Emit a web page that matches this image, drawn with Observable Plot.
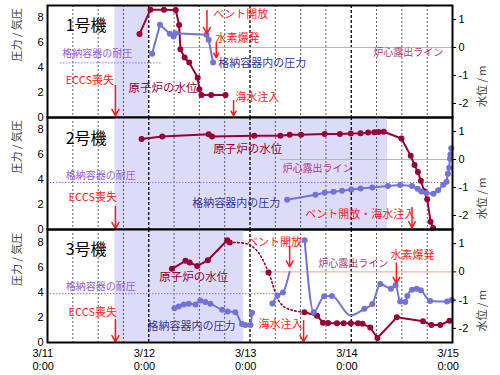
<!DOCTYPE html>
<html><head><meta charset="utf-8">
<script src="https://cdn.jsdelivr.net/npm/d3@7"></script>
<script src="https://cdn.jsdelivr.net/npm/@observablehq/plot@0.6"></script>
<style>
body{margin:0;background:#fff;}
#chart{width:500px;height:375px;position:relative;}
#chart svg{display:block;overflow:visible;}
</style></head><body><div id="chart"></div>
<script>
// ---- axes / ticks (hours since 3/11 0:00) ----
const dayTicks = [0, 24, 48, 72, 96];
const dayLabels = ["3/11\n0:00", "3/12\n0:00", "3/13\n0:00", "3/14\n0:00", "3/15\n0:00"];
const gridHours = [6, 12, 18, 24, 30, 36, 42, 48, 54, 60, 66, 72, 78, 84, 90];
const leftTicks = [0, 2, 4, 6, 8];
const rightTicks = [1, 0, -1, -2];
const units = ["1号機", "2号機", "3号機"];
const leftLabel = "圧力 / 気圧";
const rightLabel = "水位 / m";

// shaded periods (hours)
const shadeStart = [16, 16, 16];
const shadeEnd = [24, 80.6, 46.5];
// core exposure line (water level 0 m) start time
const coreLineStart = [31.5, 55.2, 50.5];
// containment design pressure: [value, from, to]
const u1Limit = [4.39, 3.1, 27.2];
const u2Limit = [3.78, 0, 94];
const u3Limit = [3.89, 0, 54];

// ---- Unit 1 ----
// reactor water level [hour, m]
const u1Level = [[21.8,0.48],[24.4,1.35],[27.6,1.35],[30.4,1.34],[31.2,0.80],[31.5,-0.06],[32.5,-0.36],[33.6,-0.54],[35.6,-1.08],[36.0,-1.49],[36.5,-1.70],[38.8,-1.70],[42.2,-1.70]];
// containment pressure [hour, atm]
const u1Press = [[24.8,5.12],[26.65,7.45],[29.0,6.73],[29.9,6.51],[30.3,6.78],[37.7,6.65],[38.2,6.25],[39.25,4.42]];

// ---- Unit 2 ----
const u2Level = [[22.3,0.73],[27.2,0.82],[38.2,0.90],[39.0,0.82],[49.0,0.85],[55.2,0.85],[57.4,0.88],[60.1,0.88],[65.7,0.91],[69.3,0.91],[71.9,0.93],[74.2,0.94],[76.0,0.96],[77.5,0.97],[78.5,0.98],[79.7,0.99],[83.9,0.75],[86.1,0.13],[87.0,-0.20],[87.8,-0.45],[88.5,-0.76],[89.3,-1.13],[90.0,-1.42],[90.8,-2.22],[91.4,-2.45]];
const u2Press = [[56.8,2.39],[63.5,2.79],[65.7,2.95],[67.8,3.03],[69.8,3.11],[72.0,3.22],[74.2,3.30],[77.0,3.38],[80.7,3.49],[83.6,3.58],[86.4,3.49],[87.7,3.27],[88.6,3.05],[89.8,2.93],[91.5,2.87],[92.6,3.15],[93.8,3.59],[94.6,3.83],[94.9,4.48],[95.2,4.96],[95.4,5.68],[95.5,6.02],[95.7,6.53]];

// ---- Unit 3 ----
const u3LevelA = [[29.5,0.11],[32.7,0.39],[33.7,0.33],[35.5,0.21],[38.0,0.41],[42.6,1.12],[43.2,1.04]];
const u3LevelEstimated = [[43.2,1.04],[47.3,0.99],[49.7,0.74],[52.4,-0.02],[53.6,-0.55],[54.4,-0.90],[56.0,-1.23],[58.3,-1.37],[60.9,-1.43]];
const u3LevelEstimatedDot = [[52.4,-0.02]];
const u3LevelB = [[60.9,-1.43],[63.9,-1.55],[65.3,-1.80],[66.5,-1.81],[68.6,-1.82],[70.2,-1.82],[71.9,-1.82],[73.6,-1.82],[74.7,-1.84],[76.5,-1.97],[78.2,-2.34],[82.8,-1.61],[89.0,-1.75],[91.0,-1.88],[93.1,-1.88],[95.3,-1.73]];
const u3PressA = [[30.1,2.73],[31.1,2.87],[32.3,3.03],[33.5,3.09],[35.1,3.03],[36.2,3.35],[37.4,3.22],[38.6,3.09],[41.4,2.60],[42.7,2.47],[44.5,2.41],[46.1,1.48],[46.9,1.40],[48.1,1.40],[48.5,2.36]];
const u3PressB = [[53.3,3.11],[54.5,3.75],[55.8,3.98],[57.4,5.63]];
const u3PressC = [[60.95,8.15],[63.1,2.41],[65.6,3.69],[67.4,3.71],[71.8,2.15],[75.1,2.68],[77.0,3.07],[78.9,4.66],[81.4,4.29],[82.5,4.56],[83.6,3.27],[84.8,3.22],[85.3,3.71],[86.4,4.21],[87.5,4.29],[88.5,4.16],[90.7,3.31],[94.7,3.27],[95.8,3.39]];
const u3PressLineOnly = [[57.4,5.63],[71.8,2.15]];

// ---- annotations: [text, hour, left value, kind] ----
const u1Texts = [["1号機",4.3,7.4,"title"],["格納容器の耐圧",3.5,5.14,"limit"],["ECCS喪失",4.3,2.97,"event"],["原子炉の水位",19.2,2.33,"level"],["ベント開放",39.3,8.3,"event"],["水素爆発",39.8,6.37,"event"],["格納容器内の圧力",40.5,4.32,"press"],["海水注入",44.5,1.63,"event"],["炉心露出ライン",77.2,5.17,"core"]];
const u2Texts = [["2号機",4.3,7.31,"title"],["原子炉の水位",39.3,6.46,"level"],["炉心露出ライン",55.7,4.86,"core"],["格納容器の耐圧",4.3,4.32,"limit"],["ECCS喪失",5.0,2.57,"event"],["格納容器内の圧力",34.3,2.12,"press"],["ベント開放・海水注入",61.1,1.24,"event"]];
const u3Texts = [["3号機",4.3,7.37,"title"],["原子炉の水位",26.5,5.23,"level"],["格納容器の耐圧",4.3,4.42,"limit"],["ECCS喪失",5.0,2.41,"event"],["格納容器内の圧力",23.7,1.26,"press"],["ベント開放",47.3,7.96,"event"],["海水注入",50.0,1.40,"event"],["炉心露出ライン",64.2,6.30,"core"],["水素爆発",81.3,6.97,"event"]];
// event arrows: [hour, from, to] (left units)
const u1Arrows = [[16.1,2.57,0.16],[37.8,8.6,6.75],[40.0,6.03,4.82],[44.1,1.37,0.16]];
const u2Arrows = [[16.1,1.85,0.08],[86.4,1.77,0.16]];
const u3Arrows = [[16.1,1.82,0.06],[57.4,7.64,6.03],[60.7,1.74,0.06],[82.7,6.33,4.72]];

// ---- helpers ----
const toLeft = r => (r + 2.5) * 9 / 4;
const fmtRight = v => { const r = Math.round(v * 4 / 9 - 2.5); return r < 0 ? "-" + (-r) : String(r); };
const LEVEL = "#990033", PRESS = "#7272d9";
const latin = "'Liberation Sans', Arial, sans-serif";
const cjk = "'Noto Sans CJK JP', 'Liberation Sans', sans-serif";
const kindStyle = {
  title: {fill: "#000", fontSize: 16},
  limit: {fill: "#9a5ce0", fontSize: 10},
  event: {fill: "#ff1a1a", fontSize: 11},
  level: {fill: "#990033", fontSize: 11.5},
  press: {fill: "#333399", fontSize: 11},
  core: {fill: "#b03a78", fontSize: 10}
};
const sameP = (a, b) => a[0] === b[0] && a[1] === b[1];

const panels = [
  {levelSegs: [u1Level], estimated: [], estDots: [], pressSegs: [u1Press], pressCurve: "linear", texts: u1Texts, arrows: u1Arrows, limit: u1Limit},
  {levelSegs: [u2Level], estimated: [], estDots: [], pressSegs: [u2Press], pressCurve: "linear", texts: u2Texts, arrows: u2Arrows, limit: u2Limit},
  {levelSegs: [u3LevelA, u3LevelB], estimated: u3LevelEstimated, estDots: u3LevelEstimatedDot, pressSegs: [u3PressA, u3PressB, u3PressC], pressCurve: "monotone-x", texts: u3Texts, arrows: u3Arrows, limit: u3Limit}
];

function buildPanel(i) {
  const P = panels[i];
  const last = i === 2;
  const marks = [];
  marks.push(Plot.rect([[shadeStart[i], shadeEnd[i]]], {x1: d => d[0], x2: d => d[1], y1: () => 0, y2: () => 9, fill: "#dcdcf9"}));
  marks.push(Plot.ruleX(gridHours.filter(h => h % 24), {x: d => d, stroke: "#333", strokeDasharray: "2,2", strokeWidth: 0.8}));
  marks.push(Plot.ruleX(gridHours.filter(h => h % 24 === 0), {x: d => d, stroke: "#000", strokeDasharray: "3,2", strokeWidth: 1.3}));
  marks.push(Plot.ruleY([P.limit], {y: d => d[0], x1: d => d[1], x2: d => d[2], stroke: "#9b6cf0", strokeDasharray: "1.5,1.5", strokeWidth: 1}));
  marks.push(Plot.ruleY([coreLineStart[i]], {y: () => toLeft(0), x1: d => d, x2: () => 96, stroke: "#ff9a9a", strokeWidth: 1}));
  // water level
  if (P.estimated.length) {
    marks.push(Plot.line(P.estimated, {x: d => d[0], y: d => toLeft(d[1]), stroke: LEVEL, strokeWidth: 1.6, strokeDasharray: "1.5,2.5", curve: "catmull-rom"}));
    marks.push(Plot.dot(P.estDots, {x: d => d[0], y: d => toLeft(d[1]), r: 3, fill: LEVEL}));
  }
  for (const seg of P.levelSegs) {
    marks.push(Plot.line(seg, {x: d => d[0], y: d => toLeft(d[1]), stroke: LEVEL, strokeWidth: 2}));
    marks.push(Plot.dot(seg, {x: d => d[0], y: d => toLeft(d[1]), r: 3, fill: LEVEL}));
  }
  // containment pressure
  for (const seg of P.pressSegs) {
    marks.push(Plot.line(seg, {x: d => d[0], y: d => d[1], stroke: PRESS, strokeWidth: 2, curve: P.pressCurve}));
    marks.push(Plot.dot(seg.filter(p => !u3PressLineOnly.some(q => sameP(p, q))), {x: d => d[0], y: d => d[1], r: 3, fill: PRESS}));
  }
  // texts
  for (const kind of Object.keys(kindStyle)) {
    const data = P.texts.filter(d => d[3] === kind);
    if (!data.length) continue;
    marks.push(Plot.text(data, {x: d => d[1], y: d => d[2], text: d => d[0], textAnchor: "start", fontFamily: cjk, ...kindStyle[kind]}));
  }
  marks.push(Plot.arrow(P.arrows, {x1: d => d[0], x2: d => d[0], y1: d => d[1], y2: d => d[2], stroke: "#ff1a1a", strokeWidth: 1.5, headLength: 7}));
  marks.push(Plot.frame({stroke: "#000", strokeWidth: 2}));
  marks.push(Plot.axisY(leftTicks, {anchor: "left", tickSize: 0, tickPadding: 4, fontSize: 11, fontFamily: latin, fill: "#000", label: null}));
  marks.push(Plot.axisY(rightTicks.map(toLeft), {anchor: "right", tickSize: 3, tickPadding: 3, tickFormat: fmtRight, fontSize: 11, fontFamily: latin, fill: "#000", label: null}));
  marks.push(Plot.text([leftLabel], {text: d => d, frameAnchor: "left", dx: -30, rotate: -90, fontSize: 11, fill: "#444", fontFamily: cjk}));
  marks.push(Plot.text([rightLabel], {text: d => d, frameAnchor: "right", dx: 30, dy: 4, rotate: -90, fontSize: 11, fill: "#444", fontFamily: cjk}));
  if (last) {
    marks.push(Plot.text(dayTicks.map((t, k) => [t, dayLabels[k]]), {x: d => d[0], text: d => d[1], frameAnchor: "bottom", lineAnchor: "top", dy: 5, dx: -15, textAnchor: "start", lineHeight: 1.2, fontSize: 11, fontFamily: latin, fill: "#000"}));
  }
  return Plot.plot({
    width: 500,
    height: [117, 112, 146][i],
    marginLeft: 47, marginRight: 48,
    marginTop: i === 0 ? 5 : 0,
    marginBottom: last ? 33 : 0,
    x: {domain: [0, 96], axis: null},
    y: {domain: [0, 9], axis: null, label: null},
    style: {background: "transparent", overflow: "visible", fontFamily: cjk},
    marks
  });
}
const chart = document.getElementById("chart");
for (let i = 0; i < 3; i++) chart.appendChild(buildPanel(i));
</script>
</body></html>
